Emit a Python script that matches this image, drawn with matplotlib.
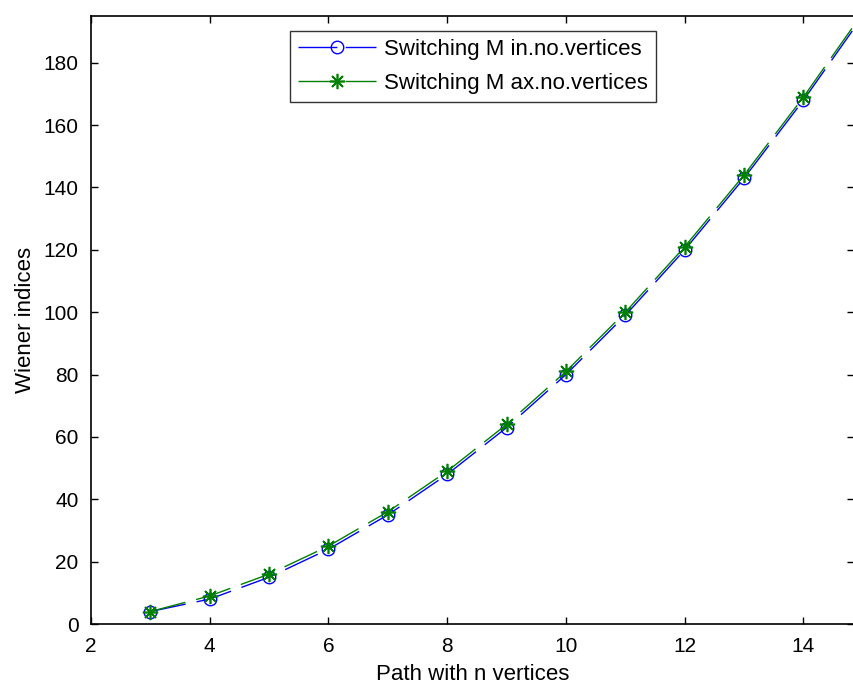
import matplotlib
matplotlib.use("Agg")
import matplotlib.pyplot as plt
from matplotlib.lines import Line2D
from matplotlib.legend_handler import HandlerTuple

plt.rcParams['font.family'] = ['Liberation Sans', 'DejaVu Sans']

n_vertices = [3, 4, 5, 6, 7, 8, 9, 10, 11, 12, 13, 14, 15]
wiener_min = [4, 8, 15, 24, 35, 48, 63, 80, 99, 120, 143, 168, 195]
wiener_max = [4, 9, 16, 25, 36, 49, 64, 81, 100, 121, 144, 169, 196]
xticks = [2, 4, 6, 8, 10, 12, 14]
yticks = [0, 20, 40, 60, 80, 100, 120, 140, 160, 180]
labels = ['Switching M in.no.vertices', 'Switching M ax.no.vertices']

W, H = 854, 685
fig = plt.figure(figsize=(W / 100, H / 100), dpi=100)
left, right = 91, 854
bottom, top = 624, 16
ax = fig.add_axes([left / W, 1 - bottom / H, (right - left) / W, (bottom - top) / H])

dash = (0, (26, 8))
min_style = dict(color='#0000ff', marker='o', markersize=9, markerfacecolor='none',
                 markeredgecolor='#0000ff', markeredgewidth=1.0)
max_style = dict(color='#008000', marker=(8, 2, 0), markersize=11, markerfacecolor='#008000',
                 markeredgecolor='#008000', markeredgewidth=1.2)
ax.plot(n_vertices, wiener_min, lw=1.0, linestyle=dash, **min_style)
ax.plot(n_vertices, wiener_max, lw=1.0, linestyle=dash, **max_style)

ax.set_xlim(2, 2 + (right - left) / 59.37)
ax.set_ylim(0, 195)
ax.set_xticks(xticks)
ax.set_yticks(yticks)
ax.tick_params(direction='in', length=5, width=1, labelsize=15, top=True, right=True, pad=9)
for s in ax.spines.values():
    s.set_linewidth(1.2)
ax.set_xlabel('Path with n vertices', fontsize=16, labelpad=6)
ax.set_ylabel('Wiener indices', fontsize=16, labelpad=5)

leg_dash = (0, (28, 6))
handles = []
for st in (min_style, max_style):
    ln = Line2D([], [], color=st['color'], lw=1.0, linestyle=leg_dash)
    mk = Line2D([], [], linestyle='none', **st)
    handles.append((ln, mk))

leg = ax.legend(handles, labels, handler_map={tuple: HandlerTuple(ndivide=1, pad=0)},
                loc='upper left',
                bbox_to_anchor=((290 - left) / (right - left), 1 - (31 - top) / (bottom - top)),
                fontsize=16, frameon=True, fancybox=False, edgecolor='black',
                handlelength=3.5, borderpad=0.35, labelspacing=0.6, handletextpad=0.4,
                borderaxespad=0)
leg.get_frame().set_linewidth(1.0)

fig.savefig('out.png', dpi=100)
